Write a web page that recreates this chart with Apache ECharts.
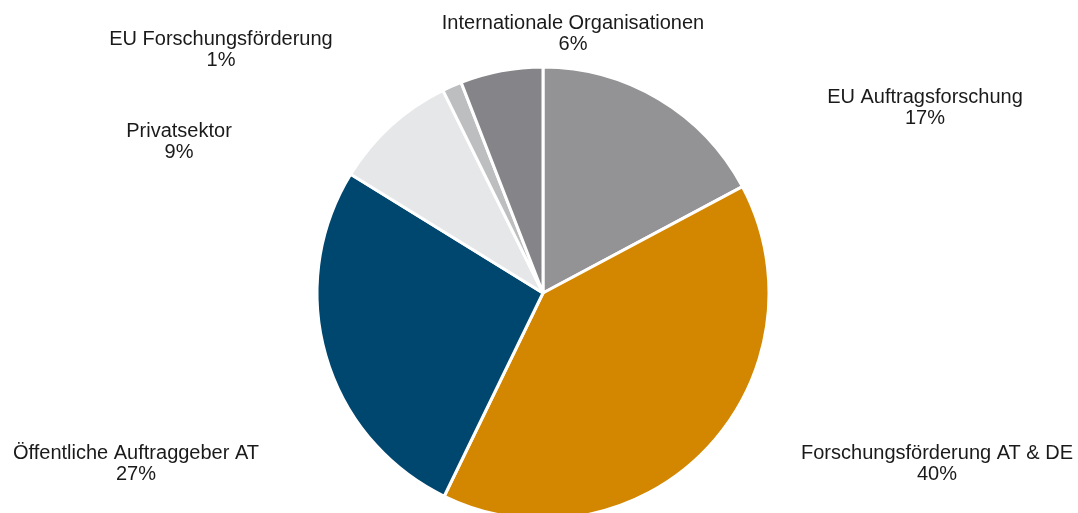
<!DOCTYPE html>
<html>
<head>
<meta charset="utf-8">
<script src="https://cdn.jsdelivr.net/npm/echarts@6/dist/echarts.min.js"></script>
<style>
  html, body { margin: 0; padding: 0; background: #ffffff; }
  #chart { width: 1078px; height: 513px; }
</style>
</head>
<body>
<div id="chart"></div>
<script>
// Funding sources, listed clockwise from 12 o'clock
const categories = [
  'EU Auftragsforschung',
  'Forschungsförderung AT & DE',
  'Öffentliche Auftraggeber AT',
  'Privatsektor',
  'EU Forschungsförderung',
  'Internationale Organisationen'
];
const shares = [17.2, 40.0, 26.6, 8.9, 1.4, 5.9];
const sliceColors = ['#939396', '#D38700', '#00476F', '#E6E7E8', '#BDBEC0', '#858589'];

// Label anchor points (block centres) for each slice label
const labelSpots = [
  [925, 108],
  [937, 464],
  [136, 464],
  [179, 142],
  [221, 50],
  [573, 34]
];

const chart = echarts.init(document.getElementById('chart'), null, { renderer: 'canvas' });

chart.setOption({
  animation: false,
  backgroundColor: '#ffffff',
  series: [{
    type: 'pie',
    center: [543, 293],
    radius: 226,
    startAngle: 90,
    clockwise: true,
    avoidLabelOverlap: false,
    itemStyle: { borderColor: '#ffffff', borderWidth: 3 },
    emphasis: { disabled: true },
    label: {
      show: true,
      position: 'outside',
      formatter: p => p.name + '\n' + Math.round(p.percent) + '%',
      fontFamily: 'Liberation Sans, Arial, sans-serif',
      fontSize: 20,
      lineHeight: 21,
      color: '#1a1a1a',
      align: 'center'
    },
    labelLine: { show: false },
    labelLayout: params => ({
      x: labelSpots[params.dataIndex][0],
      y: labelSpots[params.dataIndex][1],
      align: 'center',
      verticalAlign: 'middle'
    }),
    data: categories.map((name, i) => ({
      name: name,
      value: shares[i],
      itemStyle: { color: sliceColors[i] }
    }))
  }]
});
</script>
</body>
</html>
